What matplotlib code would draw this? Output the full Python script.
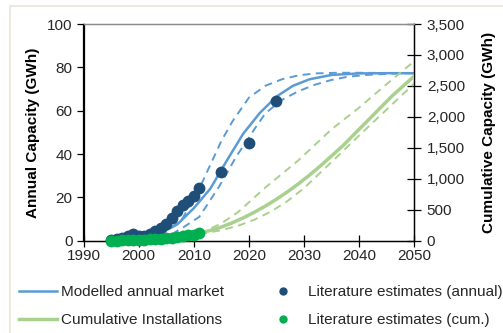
import matplotlib
matplotlib.use("Agg")
import matplotlib.pyplot as plt
from matplotlib.lines import Line2D
from matplotlib.patches import Rectangle
from matplotlib.ticker import FuncFormatter, MultipleLocator

plt.rcParams['font.family'] = ['Liberation Sans', 'DejaVu Sans']

# ---- data ----
annual_years = [2004, 2007, 2010, 2013, 2016, 2019, 2022, 2025, 2028, 2031, 2035, 2040, 2045, 2050]
annual_model = [3.5, 7.5, 15.0, 24.0, 37.0, 49.5, 59.0, 66.5, 71.5, 74.5, 76.5, 77.2, 77.3, 77.3]

annual_hi_years = [2006, 2008, 2011, 2014, 2015, 2017, 2020, 2023, 2026, 2029, 2032, 2036, 2040, 2045, 2050]
annual_hi = [6.0, 10.5, 24.0, 40.5, 46.0, 55.0, 66.0, 71.5, 74.5, 76.3, 77.2, 77.5, 77.5, 77.4, 77.3]

annual_lo_years = [2006, 2008, 2011, 2014.6, 2017.7, 2021.3, 2023, 2026, 2029, 2032, 2035, 2038, 2042, 2046, 2050]
annual_lo = [3.0, 6.0, 11.0, 25.0, 38.8, 52.6, 58.8, 65.0, 69.0, 72.0, 74.2, 75.7, 76.6, 77.1, 77.3]

lit_annual_years = [1995, 1996, 1997, 1998, 1999, 2000, 2001, 2002, 2003, 2004, 2005,
                    2006, 2007, 2008, 2009, 2010, 2011, 2015, 2020, 2025]
lit_annual = [0.3, 0.8, 1.3, 2.0, 3.2, 2.0, 2.2, 3.0, 4.5, 6.0, 7.5,
              10.5, 13.5, 16.5, 18.5, 20.5, 24.5, 31.8, 45.0, 64.6]

cum_years = [2010, 2011, 2013, 2015, 2017, 2019, 2021, 2023, 2025, 2027, 2029, 2031,
             2033, 2035, 2037, 2040, 2043, 2046, 2050]
cum_model = [100, 120, 165, 220, 290, 370, 460, 560, 670, 790, 920, 1060,
             1210, 1370, 1530, 1800, 2070, 2340, 2660]

cum_hi_years = [2011, 2012, 2015, 2018, 2020, 2023, 2026, 2029, 2032, 2035, 2040, 2045, 2050]
cum_hi = [125, 150, 280, 460, 620, 860, 1080, 1300, 1550, 1800, 2150, 2530, 2900]

cum_lo_years = [2011, 2012, 2015, 2018, 2021, 2024, 2027, 2030, 2035, 2040, 2045, 2050]
cum_lo = [115, 120, 170, 240, 340, 470, 640, 850, 1270, 1700, 2120, 2540]

lit_cum_years = list(range(1995, 2012))
lit_cum = [0, 2, 4, 7, 10, 14, 18, 23, 29, 35, 42, 50, 60, 71, 84, 100, 120]

x_ticks = [1990, 2000, 2010, 2020, 2030, 2040, 2050]

# ---- styles ----
BLUE = '#5B9BD5'
NAVY = '#1F4E79'
LGREEN = '#A9D18E'
GREEN = '#00B050'
TXT = '#262626'

fig = plt.figure(figsize=(5.03, 3.33), dpi=100)
fig.patch.set_facecolor('white')
fig.patches.append(Rectangle((10 / 503, -0.1), 1.2, 1.1 - 6 / 333,
                             transform=fig.transFigure, fill=False,
                             edgecolor='#EEE9DD', linewidth=1.5))

ax = fig.add_axes([83.5 / 503, 1 - 240.7 / 333, (414.3 - 83.5) / 503, (240.7 - 24) / 333])
ax2 = ax.twinx()

dash = (0, (4, 2.8))
ax.plot(annual_hi_years, annual_hi, color=BLUE, lw=1.4, linestyle=dash, zorder=2)
ax.plot(annual_lo_years, annual_lo, color=BLUE, lw=1.4, linestyle=dash, zorder=2)
ax.plot(annual_years, annual_model, color=BLUE, lw=1.8, zorder=3)
ax.plot(lit_annual_years, lit_annual, 'o', color=NAVY, ms=8.5, mec='none', zorder=4, clip_on=False)

ax2.plot(cum_hi_years, cum_hi, color=LGREEN, lw=1.4, linestyle=dash, zorder=2)
ax2.plot(cum_lo_years, cum_lo, color=LGREEN, lw=1.4, linestyle=dash, zorder=2)
ax2.plot(cum_years, cum_model, color=LGREEN, lw=2.5, zorder=3)
ax2.plot(lit_cum_years, lit_cum, 'o', color=GREEN, ms=8.5, mec='none', zorder=5, clip_on=False)

ax.set_xlim(1990, 2050)
ax.set_ylim(0, 100)
ax2.set_ylim(0, 3500)
ax.set_xticks(x_ticks)
ax.yaxis.set_major_locator(MultipleLocator(20))
ax2.yaxis.set_major_locator(MultipleLocator(500))
ax2.yaxis.set_major_formatter(FuncFormatter(lambda v, p: f"{int(v):,}"))

for a in (ax, ax2):
    for s in a.spines.values():
        s.set_color('#000000')
        s.set_linewidth(0.9)
    a.spines['top'].set_color('#8c8c8c')
    a.set_facecolor('none')

ax.tick_params(axis='y', direction='out', length=5, width=0.9, pad=3, labelsize=11, labelcolor=TXT)
ax.tick_params(axis='x', direction='inout', length=8, width=0.9, pad=2, labelsize=11, labelcolor=TXT)
ax2.tick_params(axis='y', direction='inout', length=10, width=0.9, pad=4, labelsize=11, labelcolor=TXT)

ax.set_ylabel('Annual Capacity (GWh)', fontsize=11, fontweight='bold', color='#000000', labelpad=5)
ax2.set_ylabel('Cumulative Capacity (GWh)', fontsize=11, fontweight='bold', color='#000000', labelpad=12)

h1 = [Line2D([], [], color=BLUE, lw=1.8), Line2D([], [], color=LGREEN, lw=2.5)]
l1 = ['Modelled annual market', 'Cumulative Installations']
h2 = [Line2D([], [], marker='o', ls='none', color=NAVY, ms=6, mec='none'),
      Line2D([], [], marker='o', ls='none', color=GREEN, ms=6, mec='none')]
l2 = ['Literature estimates (annual)', 'Literature estimates (cum.)']

leg_kw = dict(loc='upper left', frameon=False, fontsize=11, handlelength=2.5,
              labelspacing=0.92, borderpad=0, borderaxespad=0, labelcolor=TXT)
fig.legend(h1, l1, bbox_to_anchor=(19 / 503, 1 - 285 / 333), handletextpad=0.25, **leg_kw)
fig.legend(h2, l2, bbox_to_anchor=(264 / 503, 1 - 285 / 333), handletextpad=0.4, **leg_kw)

fig.savefig('out.png', dpi=100)
